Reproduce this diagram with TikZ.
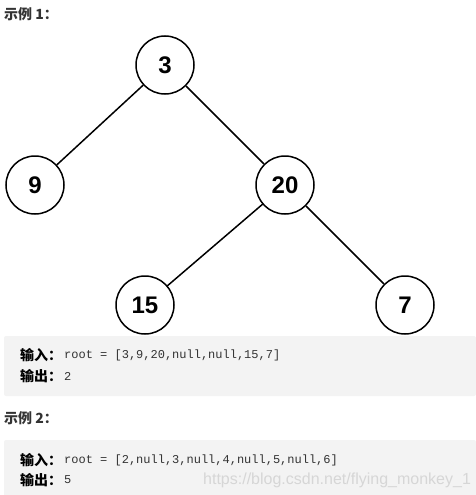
\documentclass[tikz,border=0pt]{standalone}
\usepackage{fontspec}
\setmainfont{Liberation Sans}
\setmonofont{Liberation Mono}
\newfontfamily\cjk{Noto Sans CJK SC}
\usetikzlibrary{positioning}
\definecolor{ink}{HTML}{333333}
\definecolor{codebg}{HTML}{F3F3F3}
\definecolor{wmark}{HTML}{D6D6D6}
\tikzset{
  treenode/.style={draw,circle,line width=1.5pt,minimum size=58pt,inner sep=0pt,
                   font=\fontsize{24}{24}\selectfont\bfseries},
  treeedge/.style={line width=1.5pt},
  codebox/.style={fill=codebg,rounded corners=2pt},
  heading/.style={anchor=west,inner sep=0pt,text=ink,
                  font=\cjk\fontsize{14}{14}\selectfont\bfseries},
  label/.style={heading,text=black},
  codeline/.style={anchor=west,inner sep=0pt,text=ink,
                   font=\fontsize{12}{12}\selectfont\ttfamily}
}

\begin{document}
\begin{tikzpicture}[x=1pt,y=-1pt,line cap=round]
  \useasboundingbox (0,0) rectangle (476,495);

  % Example 1: the tree
  \node[heading] (title1) at (4,14) {示例 1：};
  \node[treenode] (n3)  at (165,65)  {3};
  \node[treenode] (n9)  at (35,185)  {9};
  \node[treenode] (n20) at (285,185) {20};
  \node[treenode] (n15) at (145,305) {15};
  \node[treenode] (n7)  at (405,305) {7};
  \draw[treeedge] (n3)--(n9);
  \draw[treeedge] (n3)--(n20);
  \draw[treeedge] (n20)--(n15);
  \draw[treeedge] (n20)--(n7);

  % Example 1: input and output
  \fill[codebox] (4,336) rectangle (476,396);
  \node[label] (in1)   at (20,355) {输入：};
  \node[codeline] (root1) at (64,355) {root = [3,9,20,null,null,15,7]};
  \node[label] (out1)  at (20,376) {输出：};
  \node[codeline] (ans1)  at (64,376) {2};

  % Example 2
  \node[heading] (title2) at (4,418) {示例 2：};
  \fill[codebox] (4,440) rectangle (476,500);
  \node[label] (in2)   at (20,460) {输入：};
  \node[codeline] (root2) at (64,460) {root = [2,null,3,null,4,null,5,null,6]};
  \node[label] (out2)  at (20,480) {输出：};
  \node[codeline] (ans2)  at (64,480) {5};
  \node[anchor=west,inner sep=0pt,text=wmark,font=\fontsize{16}{16}\selectfont]
    (mark) at (203,480) {https://blog.csdn.net/flying\_monkey\_1};
\end{tikzpicture}
\end{document}
